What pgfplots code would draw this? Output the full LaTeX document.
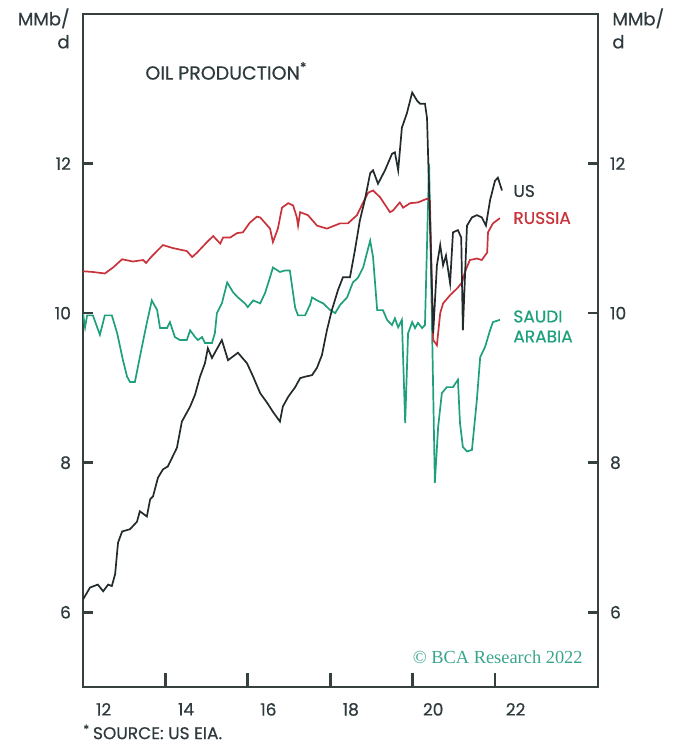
\documentclass[border=0pt]{standalone}
\usepackage{pgfplots}
\pgfplotsset{compat=1.18}
\usepackage{fontspec}
\setmainfont{Poppins}[FakeBold=0.5]
\setsansfont{Poppins}[FakeBold=0.5]
\newfontfamily\seriffont{Liberation Serif}
\definecolor{txt}{HTML}{2E3A3D}
\definecolor{axc}{HTML}{36403F}
\definecolor{usc}{HTML}{222A2C}
\definecolor{ruc}{HTML}{C8323A}
\definecolor{sac}{HTML}{1FA07C}
\definecolor{copc}{HTML}{3AA58C}

\pgfplotstableread{
x y
2012.00 10.56
2012.24 10.55
2012.53 10.53
2012.73 10.61
2012.95 10.72
2013.21 10.69
2013.46 10.71
2013.53 10.67
2013.67 10.76
2013.94 10.91
2014.18 10.87
2014.52 10.83
2014.65 10.75
2014.77 10.81
2015.01 10.95
2015.16 11.03
2015.33 10.93
2015.40 11.01
2015.57 11.01
2015.74 11.07
2015.88 11.08
2016.05 11.21
2016.22 11.29
2016.30 11.28
2016.54 11.13
2016.61 10.95
2016.73 11.13
2016.83 11.41
2016.98 11.47
2017.10 11.44
2017.19 11.28
2017.22 11.17
2017.27 11.35
2017.46 11.31
2017.68 11.17
2017.92 11.13
2018.24 11.20
2018.43 11.20
2018.65 11.31
2018.80 11.48
2018.92 11.61
2019.04 11.64
2019.21 11.55
2019.45 11.35
2019.52 11.37
2019.69 11.48
2019.77 11.41
2019.94 11.47
2020.13 11.48
2020.35 11.53
2020.42 11.50
2020.50 9.64
2020.59 9.57
2020.67 10.00
2020.74 10.13
2020.91 10.24
2021.08 10.33
2021.20 10.41
2021.27 10.55
2021.39 10.71
2021.56 10.73
2021.68 10.71
2021.81 10.81
2021.83 11.08
2021.95 11.20
2022.12 11.27
}\russia

\pgfplotstableread{
x y
2012.00 6.17
2012.17 6.33
2012.36 6.37
2012.49 6.28
2012.61 6.37
2012.70 6.35
2012.78 6.51
2012.85 6.93
2012.95 7.08
2013.14 7.11
2013.31 7.21
2013.38 7.35
2013.55 7.28
2013.63 7.51
2013.70 7.55
2013.82 7.80
2013.94 7.91
2014.06 7.95
2014.28 8.20
2014.40 8.55
2014.60 8.75
2014.72 8.91
2014.84 9.15
2014.96 9.33
2015.03 9.53
2015.13 9.40
2015.37 9.64
2015.52 9.37
2015.76 9.47
2015.98 9.33
2016.13 9.15
2016.30 8.93
2016.47 8.80
2016.61 8.68
2016.78 8.55
2016.85 8.75
2016.98 8.88
2017.15 9.01
2017.27 9.13
2017.39 9.15
2017.56 9.17
2017.68 9.27
2017.80 9.44
2017.92 9.77
2018.04 10.04
2018.19 10.31
2018.31 10.48
2018.48 10.48
2018.60 10.84
2018.72 11.24
2018.84 11.51
2018.97 11.87
2019.04 11.91
2019.16 11.73
2019.33 11.91
2019.50 12.13
2019.57 12.15
2019.65 11.91
2019.74 12.48
2019.86 12.67
2019.99 12.95
2020.11 12.84
2020.18 12.80
2020.30 12.80
2020.35 12.61
2020.50 9.73
2020.59 10.64
2020.67 10.91
2020.74 10.64
2020.81 10.77
2020.91 10.40
2020.98 11.08
2021.10 11.11
2021.18 11.01
2021.22 9.77
2021.32 11.17
2021.44 11.28
2021.56 11.31
2021.68 11.28
2021.78 11.17
2021.88 11.51
2022.00 11.77
2022.07 11.81
2022.17 11.64
}\us

\pgfplotstableread{
x y
2012.00 10.00
2012.05 9.81
2012.10 9.97
2012.24 9.97
2012.41 9.71
2012.53 9.97
2012.70 9.97
2012.83 9.73
2012.97 9.37
2013.07 9.15
2013.14 9.08
2013.26 9.08
2013.43 9.55
2013.55 9.87
2013.67 10.17
2013.80 10.04
2013.87 9.80
2014.04 9.80
2014.11 9.88
2014.23 9.68
2014.35 9.64
2014.52 9.64
2014.60 9.77
2014.72 9.68
2014.79 9.64
2014.89 9.68
2014.96 9.60
2015.13 9.60
2015.20 9.73
2015.25 10.00
2015.37 10.13
2015.50 10.41
2015.64 10.28
2015.76 10.21
2015.93 10.13
2016.00 10.08
2016.13 10.17
2016.30 10.13
2016.42 10.27
2016.54 10.48
2016.61 10.61
2016.78 10.55
2016.90 10.57
2017.02 10.57
2017.15 10.07
2017.22 9.97
2017.39 9.97
2017.51 10.11
2017.56 10.21
2017.68 10.17
2017.83 10.13
2018.00 10.04
2018.12 10.00
2018.24 10.11
2018.41 10.21
2018.55 10.41
2018.67 10.47
2018.80 10.61
2018.97 10.97
2019.04 10.75
2019.14 10.04
2019.28 10.04
2019.38 9.91
2019.50 9.84
2019.57 9.93
2019.65 9.81
2019.74 9.91
2019.82 8.53
2019.89 9.73
2019.99 9.88
2020.06 9.80
2020.13 9.87
2020.23 9.80
2020.30 9.84
2020.40 12.00
2020.54 7.73
2020.62 8.48
2020.71 8.93
2020.83 9.01
2020.98 9.01
2021.10 9.11
2021.15 8.53
2021.22 8.21
2021.32 8.15
2021.44 8.17
2021.56 8.84
2021.64 9.41
2021.76 9.55
2021.88 9.77
2021.95 9.88
2022.12 9.91
}\saudi

\begin{document}
\fontsize{8.5}{10}\selectfont
\begin{tikzpicture}
\path[use as bounding box] (-41.5pt,-28.5pt) rectangle (298.5pt,343.5pt);
\pgfplotsset{
  base/.style={
    at={(0pt,0pt)}, anchor=south west,
    scale only axis, width=257.5pt, height=336.5pt,
    xmin=2012, xmax=2024.5, ymin=5, ymax=14,
    axis line style={color=axc, line width=1.2pt},
    major tick length=0pt,
    ytick={6,8,10,12},
    /pgf/number format/assume math mode=true,
    ticklabel style={font=\fontsize{8.5}{10}\selectfont, text=txt},
  }
}
\begin{axis}[base,
  name=main,
  xtick={2012,2014,...,2022},
  xticklabels={12,14,16,18,20,22},
  xticklabel style={xshift=10.3pt, yshift=-5pt},
  yticklabel pos=left,
  yticklabel style={xshift=-3pt},
]
\addplot[color=sac, line width=0.85pt] table[x=x,y=y] {\saudi};
\addplot[color=ruc, line width=0.85pt] table[x=x,y=y] {\russia};
\addplot[color=usc, line width=0.85pt] table[x=x,y=y] {\us};
\end{axis}
\begin{axis}[base,
  hide x axis,
  axis y line*=right,
  yticklabel style={xshift=3pt},
]
\end{axis}
% tick marks (inside)
\foreach \k in {1,...,5} {
  \draw[axc, line width=1.4pt] ({\k*41.2pt},0pt) -- ({\k*41.2pt},7pt);
}
\foreach \v in {37.39,112.17,186.94,261.72} {
  \draw[axc, line width=1.3pt] (0pt,\v pt) -- (5pt,\v pt);
  \draw[axc, line width=1.3pt] (257.5pt,\v pt) -- (252.5pt,\v pt);
}
% unit labels
\node[anchor=north east, align=right, text=txt, inner sep=0pt, font=\fontsize{9}{11.5}\selectfont] at (-6.5pt,339.5pt) {MMb/\\d};
\node[anchor=north west, align=left, text=txt, inner sep=0pt, font=\fontsize{9}{11.5}\selectfont] at (264.5pt,339.5pt) {MMb/\\d};
% title
\node[anchor=west, text=txt, inner sep=0pt, font=\fontsize{9.5}{11}\selectfont] at (31pt,308pt) {OIL PRODUCTION\textsuperscript{*}};
% series labels
\node[anchor=west, text=txt, inner sep=0pt] at (215pt,248pt) {US};
\node[anchor=west, text=ruc, inner sep=0pt] at (215pt,234.5pt) {RUSSIA};
\node[anchor=north west, align=left, text=sac, inner sep=0pt, font=\fontsize{8.5}{10}\selectfont] at (215pt,188.5pt) {SAUDI\\ARABIA};
% copyright
\node[anchor=east, text=copc, inner sep=0pt, font=\seriffont\fontsize{9.2}{11}\selectfont] at (250pt,15pt) {\textcopyright\ BCA Research 2022};
% source
\node[anchor=west, text=txt, inner sep=0pt] at (0pt,-22.5pt) {\textsuperscript{*}\,SOURCE: US EIA.};
\end{tikzpicture}
\end{document}
